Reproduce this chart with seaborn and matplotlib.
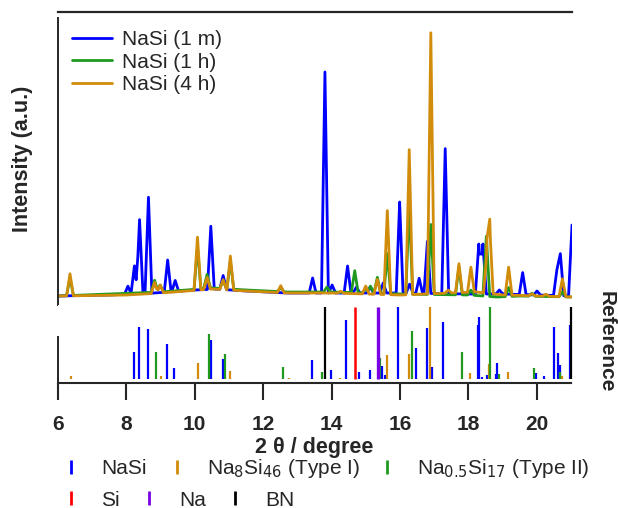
import numpy as np
import pandas as pd
import seaborn as sns
import matplotlib.pyplot as plt
from matplotlib.lines import Line2D

# ---- diffraction patterns: peak centre (2theta), peak height, baseline knots ----
m1_pos = [8.04, 8.23, 8.38, 8.64, 9.20, 9.42, 10.46, 10.82, 13.43, 13.79, 14.00, 14.45, 14.71,
          15.11, 15.49, 15.97, 16.26, 16.54, 16.78, 17.30, 18.28, 18.40, 18.88, 19.56, 19.98,
          20.56, 20.66, 21.00]
m1_hgt = [8, 28, 74, 96, 32, 11, 63, 14, 15, 221, 8, 27, 6,
          6, 10, 91, 9, 15, 52, 145, 50, 50, 4, 22, 4,
          26, 42, 71]
m1_base_x = [6.0, 7.5, 8.8, 10.0, 10.6, 11.5, 12.7, 14.0, 16.0, 18.0, 19.0, 21.0]
m1_base_y = [1, 2, 4, 7, 8, 6, 4, 4, 4, 3, 3, 1]

h1_pos = [6.35, 8.82, 8.98, 10.07, 10.35, 10.82, 11.03, 12.50, 13.85, 14.66, 14.98, 15.12,
          15.32, 15.61, 16.25, 16.88, 17.70, 18.05, 18.50, 19.15, 19.83, 20.72]
h1_hgt = [18, 12, 7, 42, 14, 8, 28, 4, 5, 22, 4, 7,
          16, 40, 90, 70, 28, 5, 60, 9, 3, 5]
h1_base_x = [6.0, 7.5, 9.0, 10.5, 11.5, 12.7, 14.0, 15.0, 16.0, 18.0, 18.8, 19.5, 21.0]
h1_base_y = [1, 3, 5, 9, 7, 5, 5, 4, 3, 2, 0, 1, 0]

h4_pos = [6.35, 8.82, 8.98, 10.07, 10.35, 10.82, 11.03, 12.50, 14.25, 14.98, 15.32, 15.61,
          16.25, 16.88, 17.39, 17.70, 18.05, 18.52, 18.60, 19.15, 19.83, 20.24, 20.72]
h4_hgt = [22, 11, 8, 53, 12, 10, 34, 7, 2, 8, 15, 84,
          145, 261, 3, 29, 25, 42, 66, 28, 2, 2, 18]
h4_base_x = [6.0, 8.0, 9.0, 10.5, 11.5, 12.7, 14.0, 15.0, 16.0, 18.2, 19.0, 21.0]
h4_base_y = [1, 2, 4, 8, 6, 4, 4, 3, 2, 5, 2, 0]

samples = ['NaSi (1 m)', 'NaSi (1 h)', 'NaSi (4 h)']
line_colors = ['#0000FF', '#1F9A1F', '#D08C0A']

# ---- reference sticks: position (2theta) and relative height ----
nasi_pos = [8.23, 8.38, 8.62, 9.18, 9.40, 10.46, 10.82, 13.42, 13.98, 14.41, 14.81, 15.12, 15.46,
            15.56, 15.95, 16.47, 16.78, 16.93, 17.27, 18.27, 18.32, 18.39, 18.54, 18.80, 18.83,
            19.98, 20.21, 20.51, 20.63, 20.69, 20.97]
nasi_hgt = [27, 52, 50, 35, 11, 39, 20, 19, 9, 59, 7, 9, 13,
            4, 72, 31, 51, 12, 57, 54, 62, 2, 4, 5, 16,
            6, 3, 52, 26, 14, 54]
type1_pos = [6.37, 9.00, 10.08, 11.03, 12.75, 14.25, 15.63, 16.26, 16.88, 18.05, 18.60, 19.17, 20.73]
type1_hgt = [3, 3, 16, 8, 1, 1, 24, 25, 72, 6, 15, 7, 3]
type2_pos = [8.88, 10.42, 10.88, 12.57, 13.71, 15.42, 16.34, 17.81, 18.63, 18.89, 19.93, 20.68]
type2_hgt = [27, 45, 25, 12, 7, 21, 48, 27, 72, 5, 11, 7]
si_pos, si_hgt = [14.67], [72]
na_pos, na_hgt = [15.35], [72]
bn_pos, bn_hgt = [13.81, 21.00], [72, 72]

ref_labels = ['NaSi', 'Na$_8$Si$_{46}$ (Type I)', 'Na$_{0.5}$Si$_{17}$ (Type II)', 'Si', 'Na', 'BN']
ref_colors = ['#0000FF', '#D08C0A', '#1F9A1F', '#FF0000', '#7A00E6', '#000000']


def build_pattern(pos, hgt, base_x, base_y, half=0.1):
    pos = np.asarray(pos, float)
    knots = np.unique(np.concatenate([base_x, pos, pos - half, pos + half]))
    knots = knots[(knots >= 6) & (knots <= 21)]
    y = np.interp(knots, base_x, base_y).astype(float)
    for c, h in zip(pos, hgt):
        y += np.clip(h * (1 - np.abs(knots - c) / half), 0, None)
    return knots, y


frames = []
for name, (p, h, bx, by) in zip(samples, [(m1_pos, m1_hgt, m1_base_x, m1_base_y),
                                          (h1_pos, h1_hgt, h1_base_x, h1_base_y),
                                          (h4_pos, h4_hgt, h4_base_x, h4_base_y)]):
    x, y = build_pattern(p, h, bx, by)
    frames.append(pd.DataFrame({'two_theta': x, 'intensity': y, 'sample': name}))
df = pd.concat(frames, ignore_index=True)

sns.set_style('ticks')
plt.rcParams['font.family'] = ['Liberation Sans', 'DejaVu Sans']

W, H = 618, 508
fig = plt.figure(figsize=(W / 100, H / 100), dpi=100)
ax1 = fig.add_axes([58 / W, 1 - 305 / H, 514 / W, 293 / H])
ax2 = fig.add_axes([58 / W, 1 - 383 / H, 513 / W, 78 / H])

# upper panel: measured patterns
sns.lineplot(data=df, x='two_theta', y='intensity', hue='sample', hue_order=samples,
             palette=line_colors, estimator=None, sort=False, lw=2.0, ax=ax1, legend=False)
ax1.set_xlim(6, 21)
ax1.set_ylim(-8, 285)
ax1.set_xticks([])
ax1.set_yticks([])
ax1.set_xlabel('')
ax1.set_ylabel('Intensity (a.u.)', fontsize=15.5, fontweight='bold')
ax1.yaxis.set_label_coords(-25 / 514, 0.5)
for s in ['right', 'bottom']:
    ax1.spines[s].set_visible(False)
ax1.spines['top'].set_linewidth(1.6)
ax1.spines['left'].set_linewidth(1.4)
ax1.spines['left'].set_bounds(-8, 279)

handles = [Line2D([], [], color=c, lw=2) for c in line_colors]
ax1.legend(handles, samples, loc='upper left', bbox_to_anchor=(0.027, 0.938), frameon=False,
           fontsize=15, handlelength=1.92, handletextpad=0.48, labelspacing=0.17, borderpad=0,
           borderaxespad=0)

# lower panel: reference sticks
stick_sets = [(nasi_pos, nasi_hgt, 1.6), (type1_pos, type1_hgt, 1.6), (type2_pos, type2_hgt, 1.6),
              (si_pos, si_hgt, 1.8), (na_pos, na_hgt, 2.4), (bn_pos, bn_hgt, 1.6)]
for (p, h, lw), c in zip(stick_sets, ref_colors):
    ax2.vlines(p, 0, h, colors=c, lw=lw, clip_on=False)
ax2.set_xlim(6, 21)
ax2.set_ylim(-4, 74)
ax2.set_yticks([])
ax2.set_xticks(range(6, 21, 2))
ax2.tick_params(axis='x', direction='out', length=12, width=1.5, pad=11, labelsize=15)
for lab in ax2.get_xticklabels():
    lab.set_fontweight('bold')
for s in ['top', 'right']:
    ax2.spines[s].set_visible(False)
ax2.spines['bottom'].set_linewidth(1.5)
ax2.spines['left'].set_linewidth(1.4)
ax2.spines['left'].set_bounds(-4, 42)
ax2.set_xlabel('2 θ / degree', fontsize=15.5, fontweight='bold', labelpad=2)
ax2.set_ylabel('')
fig.text(606 / W, 1 - 342 / H, 'Reference', rotation=270, fontsize=15, fontweight='bold',
         ha='center', va='center')

# reference legend, two rows placed entry by entry
entry_xy = [(60.6, 469), (166.6, 469), (376.6, 469), (60.6, 500), (138.6, 500), (225, 500)]
for lab, c, (x, y) in zip(ref_labels, ref_colors, entry_xy):
    h = Line2D([], [], color=c, marker='|', ls='none', markersize=10, mew=2)
    fig.legend([h], [lab], loc='center left', bbox_to_anchor=(x / W, 1 - y / H), frameon=False,
               fontsize=15, handlelength=1.0, handletextpad=0.94, borderpad=0, borderaxespad=0)

fig.savefig('out.png', dpi=100)
